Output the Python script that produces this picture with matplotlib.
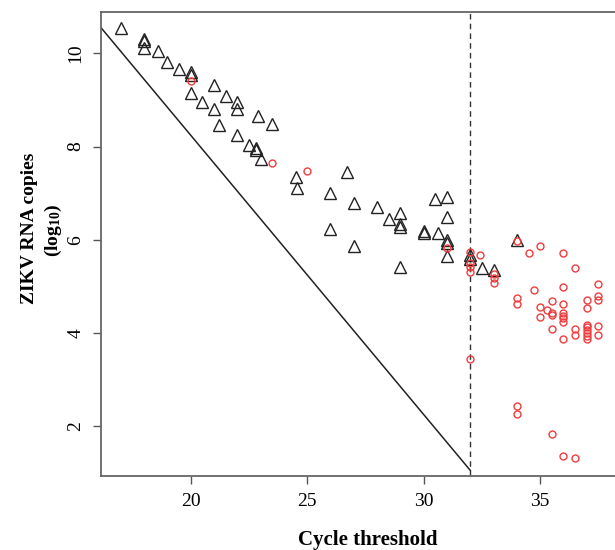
import matplotlib
matplotlib.use("Agg")
import matplotlib.pyplot as plt

plt.rcParams['font.family'] = ['Liberation Serif', 'DejaVu Serif']
plt.rcParams['mathtext.fontset'] = 'custom'
plt.rcParams['mathtext.rm'] = 'Liberation Serif:bold'
plt.rcParams['mathtext.bf'] = 'Liberation Serif:bold'
plt.rcParams['mathtext.it'] = 'Liberation Serif:bold'

# Triangles (black, open)
tri_x = [17.0, 18.0, 18.0, 18.0, 18.6, 19.0, 19.5, 20.0, 20.0, 21.0, 20.0, 21.5,
         20.5, 22.0, 21.0, 22.0, 22.9, 23.5, 21.2, 22.0, 22.5, 22.8, 22.8, 23.0,
         24.5, 24.55, 26.7, 26.0, 27.0, 28.0, 28.5, 29.0, 29.0, 29.0, 26.0, 27.0,
         29.0, 30.0, 30.0, 30.5, 31.0, 30.6, 31.0, 31.0, 31.0, 31.0, 32.0, 32.0,
         32.5, 33.0, 34.0]
tri_y = [10.54, 10.30, 10.27, 10.11, 10.06, 9.81, 9.66, 9.59, 9.53, 9.32, 9.14, 9.09,
         8.96, 8.95, 8.80, 8.80, 8.65, 8.48, 8.47, 8.25, 8.03, 7.96, 7.93, 7.73,
         7.35, 7.10, 7.45, 7.01, 6.79, 6.70, 6.44, 6.58, 6.33, 6.28, 6.23, 5.86,
         5.41, 6.19, 6.15, 6.87, 6.91, 6.14, 6.49, 6.00, 5.92, 5.65, 5.67, 5.58,
         5.39, 5.35, 5.99]

# Circles (red, open)
circ_x = [20.0, 23.5, 25.0, 31.0, 32.0, 32.0, 32.0, 32.0, 32.4, 33.0, 33.0, 33.0,
          34.0, 34.5, 35.0, 36.0, 36.5, 37.5, 34.75, 36.0, 37.5, 37.5, 34.0, 34.0,
          35.5, 35.0, 35.3, 35.5, 35.5, 36.0, 36.0, 36.0, 36.0, 36.0, 37.0, 37.0,
          35.0, 37.0, 37.0, 37.0, 37.0, 37.0, 37.0, 36.5, 36.5, 37.5, 37.5, 35.5,
          36.0, 32.0, 34.0, 34.0, 35.5, 36.0, 36.5]
circ_y = [9.41, 7.64, 7.48, 5.82, 5.74, 5.49, 5.41, 5.31, 5.67, 5.26, 5.17, 5.08,
          5.97, 5.71, 5.86, 5.72, 5.39, 5.06, 4.92, 4.99, 4.80, 4.71, 4.76, 4.62,
          4.69, 4.56, 4.49, 4.43, 4.38, 4.62, 4.42, 4.36, 4.31, 4.24, 4.71, 4.54,
          4.35, 4.17, 4.12, 4.06, 4.00, 3.93, 3.86, 4.08, 3.95, 4.15, 3.95, 4.08,
          3.88, 3.43, 2.44, 2.27, 1.83, 1.36, 1.31]

# Reference diagonal line and cutoff
line_x = [16.15, 32.0]
line_y = [10.55, 1.05]
cutoff = 32.0

x_ticks = [20, 25, 30, 35]
y_ticks = [2, 4, 6, 8, 10]

fig = plt.figure(figsize=(6.15, 5.5), dpi=100)
ax = fig.add_axes([101/615, 74/550, 518.4/615, 463.7/550])

ax.plot(line_x, line_y, color='#222222', lw=1.1)
ax.axvline(cutoff, color='#333333', lw=1.0, ls=(0, (4, 3)))

ax.plot(tri_x, tri_y, ls='none', marker='^', ms=8, mfc='none', mec='#222222', mew=1.0)
ax.plot(circ_x, circ_y, ls='none', marker='o', ms=5, mfc='none', mec='#f03c3c', mew=1.0)

ax.set_xlim(16.15, 38.4)
ax.set_ylim(0.93, 10.88)
ax.set_xticks(x_ticks)
ax.set_yticks(y_ticks)
ax.tick_params(direction='out', length=6, width=1, color='#555555', labelsize=14, pad=6)
for lab in ax.get_yticklabels():
    lab.set_rotation(90)
    lab.set_va('center')
for s in ax.spines.values():
    s.set_color('#666666')
    s.set_linewidth(1.3)

fig.text(367.5/615, 1 - 540/550, 'Cycle threshold', ha='center', va='center',
         fontsize=15, fontweight='bold')
fig.text(30/615, 1 - 228/550, 'ZIKV RNA copies', ha='center', va='center',
         rotation=90, fontsize=14, fontweight='bold')
fig.text(53/615, 1 - 230/550, '(log$_{10}$)', ha='center', va='center',
         rotation=90, fontsize=14, fontweight='bold')

fig.savefig('out.png', dpi=100)
